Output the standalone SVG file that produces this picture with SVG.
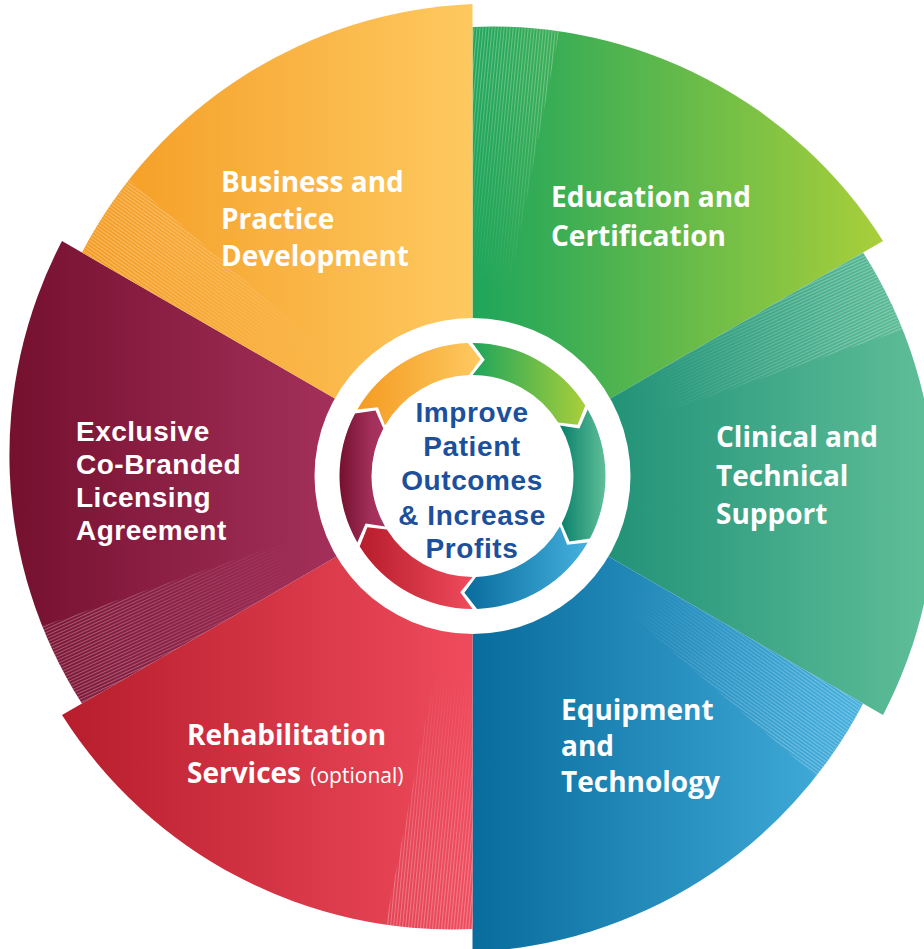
<svg xmlns="http://www.w3.org/2000/svg" width="924" height="949" viewBox="0 0 924 949">
<defs>
<style>
.lbl{font-family:"Open Sans","Liberation Sans",sans-serif;font-weight:700;fill:#ffffff;font-size:28px}
.sm{font-family:"Liberation Sans","Open Sans",sans-serif;font-size:28px;letter-spacing:0.5px}
.opt{font-weight:400;font-size:21px}
.ctr{font-family:"Liberation Sans","Open Sans",sans-serif;font-weight:700;fill:#1c4f9c;font-size:28px;letter-spacing:0.6px;text-anchor:middle}
</style>
<linearGradient id="gO" x1="0" y1="0" x2="1" y2="0"><stop offset="0" stop-color="#f49b22"/><stop offset="1" stop-color="#fec960"/></linearGradient>
<linearGradient id="gG" x1="0" y1="0" x2="1" y2="0"><stop offset="0" stop-color="#1ea55b"/><stop offset="1" stop-color="#a9cf3a"/></linearGradient>
<linearGradient id="gT" x1="0" y1="0" x2="1" y2="0"><stop offset="0" stop-color="#08806a"/><stop offset="1" stop-color="#60bf99"/></linearGradient>
<linearGradient id="gB" x1="0" y1="0" x2="1" y2="0"><stop offset="0" stop-color="#086c9d"/><stop offset="1" stop-color="#45b0de"/></linearGradient>
<linearGradient id="gR" x1="0" y1="0" x2="1" y2="0"><stop offset="0" stop-color="#b71d2c"/><stop offset="1" stop-color="#ef4b5c"/></linearGradient>
<linearGradient id="gM" x1="0" y1="0" x2="1" y2="0"><stop offset="0" stop-color="#75102f"/><stop offset="0.7" stop-color="#a3305a"/><stop offset="1" stop-color="#a83560"/></linearGradient>
<radialGradient id="fadeG" gradientUnits="userSpaceOnUse" cx="472.5" cy="478" r="470"><stop offset="0" stop-color="#000000"/><stop offset="0.4" stop-color="#000000"/><stop offset="0.85" stop-color="#ffffff"/><stop offset="1" stop-color="#ffffff"/></radialGradient>
<mask id="fade" maskUnits="userSpaceOnUse" x="0" y="0" width="924" height="949"><rect x="0" y="0" width="924" height="949" fill="url(#fadeG)"/></mask>
<pattern id="p1" width="3" height="3" patternUnits="userSpaceOnUse" patternTransform="rotate(5.5)"><rect x="0" y="0" width="1.1" height="3" fill="#ffffff" fill-opacity="0.3"/></pattern>
<pattern id="p2" width="3" height="3" patternUnits="userSpaceOnUse" patternTransform="rotate(65.5)"><rect x="0" y="0" width="1.1" height="3" fill="#ffffff" fill-opacity="0.3"/></pattern>
<pattern id="p3" width="3" height="3" patternUnits="userSpaceOnUse" patternTransform="rotate(-54.5)"><rect x="0" y="0" width="1.1" height="3" fill="#ffffff" fill-opacity="0.3"/></pattern>
</defs>
<rect width="924" height="949" fill="#ffffff"/>

<g id="sector-education">
<path d="M472.5,478 L472.5,27 A462,462 0 0 1 883,241 Z" fill="url(#gG)"/>
<path d="M472.5,478 L472.5,27 A462,462 0 0 1 559.36,31.16 Z" fill="url(#p1)" mask="url(#fade)"/>
<text class="lbl" x="551" y="207">Education and</text>
<text class="lbl" x="551" y="246">Certification</text>
</g>
<g id="sector-clinical">
<path d="M472.5,478 L863.08,252.5 A462,462 0 0 1 883,715 Z" fill="url(#gT)"/>
<path d="M472.5,478 L863.08,252.5 A462,462 0 0 1 902.9,329.8 Z" fill="url(#p2)" mask="url(#fade)"/>
<text class="lbl" x="716" y="447">Clinical and</text>
<text class="lbl" x="716" y="486">Technical</text>
<text class="lbl" x="716" y="524">Support</text>
</g>
<g id="sector-equipment">
<path d="M472.5,478 L863.08,703.5 A462,462 0 0 1 472.5,952 Z" fill="url(#gB)"/>
<path d="M472.5,478 L863.08,703.5 A462,462 0 0 1 816,776.6 Z" fill="url(#p3)" mask="url(#fade)"/>
<text class="lbl" x="561" y="720">Equipment</text>
<text class="lbl" x="561" y="756">and</text>
<text class="lbl" x="561" y="792">Technology</text>
</g>
<g id="sector-rehabilitation">
<path d="M472.5,478 L472.5,929 A462,462 0 0 1 62,715 Z" fill="url(#gR)"/>
<path d="M472.5,478 L472.5,929 A462,462 0 0 1 385.6,924.8 Z" fill="url(#p1)" mask="url(#fade)"/>
<text class="lbl" x="187" y="745">Rehabilitation</text>
<text class="lbl" x="187" y="783">Services <tspan class="opt" dx="2">(optional)</tspan></text>
</g>
<g id="sector-licensing">
<path d="M472.5,478 L81.92,703.5 A462,462 0 0 1 62,241 Z" fill="url(#gM)"/>
<path d="M472.5,478 L81.92,703.5 A462,462 0 0 1 42.1,626.2 Z" fill="url(#p2)" mask="url(#fade)"/>
<text class="lbl sm" x="76" y="441">Exclusive</text>
<text class="lbl sm" x="76" y="474">Co-Branded</text>
<text class="lbl sm" x="76" y="507">Licensing</text>
<text class="lbl sm" x="76" y="540">Agreement</text>
</g>
<g id="sector-business">
<path d="M472.5,478 L81.92,252.5 A462,462 0 0 1 472.5,4 Z" fill="url(#gO)"/>
<path d="M472.5,478 L81.92,252.5 A462,462 0 0 1 129,179.4 Z" fill="url(#p3)" mask="url(#fade)"/>
<text class="lbl" x="221" y="192">Business and</text>
<text class="lbl" x="221" y="229">Practice</text>
<text class="lbl" x="221" y="266">Development</text>
</g>

<g id="hub">
<circle cx="472.5" cy="476" r="158" fill="#ffffff"/>
</g>

<g id="connectors">
<path d="M357.32,409.5 A133,133 0 0 1 467.86,343.08 L480.66,359.29 L468.98,375.06 A101,101 0 0 0 385.03,425.5 L377.85,407.23 Z" fill="url(#gO)"/>
<path d="M472.5,343 A133,133 0 0 1 585.29,405.52 L577.65,424.71 L558.16,422.48 A101,101 0 0 0 472.5,375 L484.73,359.64 Z" fill="url(#gG)"/>
<path d="M587.68,409.5 A133,133 0 0 1 589.94,538.44 L569.5,541.41 L561.68,523.42 A101,101 0 0 0 559.97,425.5 L579.39,428.41 Z" fill="url(#gT)"/>
<path d="M587.68,542.5 A133,133 0 0 1 477.14,608.92 L464.34,592.71 L476.02,576.94 A101,101 0 0 0 559.97,526.5 L567.15,544.77 Z" fill="url(#gB)"/>
<path d="M472.5,609 A133,133 0 0 1 359.71,546.48 L367.35,527.29 L386.84,529.52 A101,101 0 0 0 472.5,577 L460.27,592.36 Z" fill="url(#gR)"/>
<path d="M357.32,542.5 A133,133 0 0 1 355.06,413.56 L375.5,410.59 L383.32,428.58 A101,101 0 0 0 385.03,526.5 L365.61,523.59 Z" fill="url(#gM)"/>
</g>

<g id="center-text">
<text class="ctr" x="472" y="422">Improve</text>
<text class="ctr" x="472" y="456">Patient</text>
<text class="ctr" x="472" y="490">Outcomes</text>
<text class="ctr" x="472" y="525">&amp; Increase</text>
<text class="ctr" x="472" y="558">Profits</text>
</g>
</svg>
